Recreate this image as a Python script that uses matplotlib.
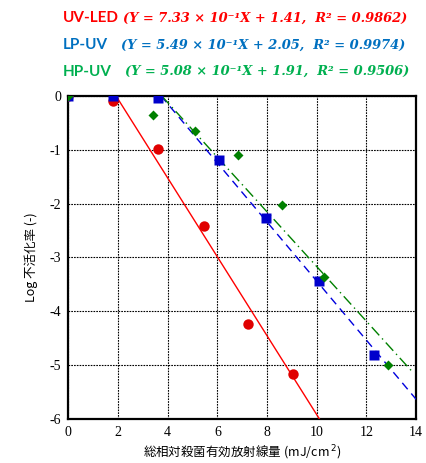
import matplotlib
matplotlib.use("Agg")
import matplotlib.pyplot as plt

plt.rcParams['axes.unicode_minus'] = False

# measured data
led_x = [0, 1.8, 3.6, 5.45, 7.25, 9.05]
led_y = [0, -0.09, -0.98, -2.42, -4.24, -5.17]
lp_x = [0, 1.8, 3.6, 6.05, 7.95, 10.1, 12.3]
lp_y = [0, 0, -0.04, -1.19, -2.27, -3.44, -4.81]
hp_x = [0, 3.43, 5.1, 6.85, 8.6, 10.3, 12.88]
hp_y = [0, -0.35, -0.65, -1.1, -2.03, -3.36, -4.99]

# fitted lines: log = -(a*x - b)
fit_led = (0.733, 1.41)
fit_lp = (0.549, 2.05)
fit_hp = (0.508, 1.91)

xticks = [0, 2, 4, 6, 8, 10, 12, 14]
yticks = [0, -1, -2, -3, -4, -5, -6]

RED = '#ff0000'
BLUE = '#0070c0'
GREEN = '#00b050'

fig = plt.figure(figsize=(4.26, 4.63), dpi=100)
ax = fig.add_axes([0.16, 0.095, 0.817, 0.698])


def fit_line(a, b, x0, x1):
    return [x0, x1], [-(a * x0 - b), -(a * x1 - b)]


# red: from y=0 to y=-6
lx, ly = fit_line(*fit_led, fit_led[1] / fit_led[0], (6 + fit_led[1]) / fit_led[0])
ax.plot(lx, ly, color='red', lw=1.0, zorder=3)
lx, ly = fit_line(*fit_lp, fit_lp[1] / fit_lp[0], 14)
ax.plot(lx, ly, color='#0000dd', lw=1.0, dashes=(6, 4), zorder=3)
lx, ly = fit_line(*fit_hp, fit_hp[1] / fit_hp[0], 13.85)
ax.plot(lx, ly, color='#008000', lw=1.0, dashes=(8, 3, 1, 3), zorder=3)

ax.plot(led_x, led_y, 'o', color='#e00000', ms=7.5, mec='none', zorder=4)
ax.plot(hp_x, hp_y, 'D', color='#008000', ms=5, mec='none', zorder=5)
ax.plot(lp_x, lp_y, 's', color='#0000cc', ms=7.5, mec='none', zorder=4)

ax.set_xlim(0, 14)
ax.set_ylim(-6, 0)
ax.set_xticks(xticks)
ax.set_yticks(yticks)
ax.set_xticklabels([str(t) for t in xticks], family='Liberation Serif', fontsize=10)
ax.set_yticklabels([str(t) for t in yticks], family='Liberation Serif', fontsize=10)
ax.tick_params(length=0, pad=5)
ax.grid(True, color='black', ls=(0, (1.5, 1)), lw=0.8)
for s in ax.spines.values():
    s.set_linewidth(1.6)

ax.set_xlabel('総相対殺菌有効放射線量 (mJ/cm$^{\\,2}$)', family=['Noto Sans CJK JP', 'DejaVu Sans'], fontsize=9, labelpad=3)
ax.set_ylabel('Log 不活化率 (-)', family=['Noto Sans CJK JP', 'DejaVu Sans'], fontsize=9, labelpad=8)

heads = [('UV-LED', '(Y = 7.33 × 10⁻¹X + 1.41,  R² = 0.9862)', RED, 0.289, 0.961),
         ('LP-UV', '(Y = 5.49 × 10⁻¹X + 2.05,  R² = 0.9974)', BLUE, 0.284, 0.903),
         ('HP-UV', '(Y = 5.08 × 10⁻¹X + 1.91,  R² = 0.9506)', GREEN, 0.293, 0.845)]
for name, formula, col, xf, y in heads:
    fig.text(0.148, y, name, color=col, fontsize=11, fontweight='bold', family='Lato', va='center')
    fig.text(xf, y, formula, color=col, fontsize=9.4, fontweight='bold',
             style='italic', family='DejaVu Serif', va='center')

fig.savefig('out.png', dpi=100)
